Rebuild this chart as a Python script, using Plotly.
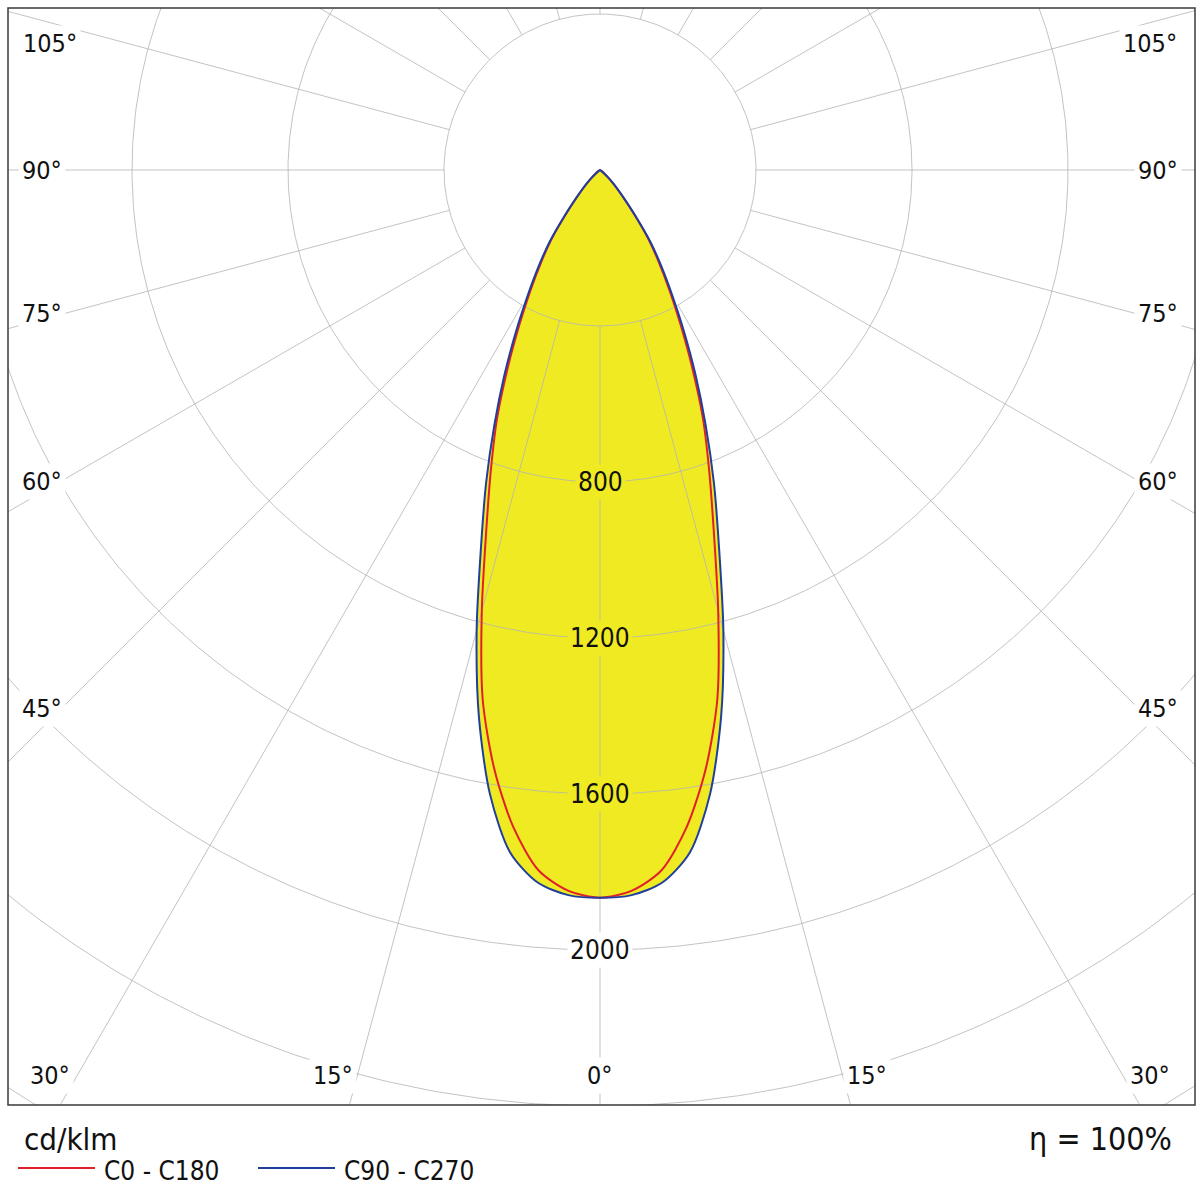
import numpy as np
import plotly.graph_objects as go

# luminous intensity distribution, cd/klm, symmetric planes
gamma = [0, 2.5, 5, 7.5, 10, 12.5, 15, 17.5, 20, 22.5, 25, 27.5, 30, 32.5,
         35, 37.5, 40, 42.5, 45, 47.5, 50, 55, 60, 70, 80, 90]
c0_c180 = [1866, 1850, 1803, 1700, 1560, 1390, 1171, 970, 818, 690, 560, 448,
           357, 282, 217, 148, 98, 66, 43, 27, 14, 5, 0, 0, 0, 0]
c90_c270 = [1866, 1861, 1834, 1765, 1625, 1435, 1222, 1015, 854, 708, 580, 466,
            370, 293, 226, 152, 100, 68, 45, 28, 15, 5, 0, 0, 0, 0]

grid_radii = [400, 800, 1200, 1600, 2000, 2400, 2800]
radial_labels = [800, 1200, 1600, 2000]
spoke_angles = list(range(0, 360, 15))
angle_labels = [0, 15, 30, 45, 60, 75, 90, 105]

FONT = "DejaVu Sans Condensed, DejaVu Sans, sans-serif"
YELLOW = "#F0EA23"
RED = "#E0202A"
BLUE = "#1F3F9C"
GRID = "rgba(180,180,180,0.8)"

W, H = 1200, 1189
# plot frame in pixels
FL, FR, FT, FB = 8, 1195, 8, 1105
CX, CY = 600, 170      # pole in pixels
PX = 0.39              # pixels per cd/klm


def px_to_data(px, py):
    return (px - CX) / PX, (CY - py) / PX


def px_to_paper(px, py):
    return (px - FL) / (FR - FL), (FB - py) / (FB - FT)


def polar_xy(angles_deg, r):
    a = np.radians(angles_deg)
    r = np.asarray(r, dtype=float)
    return r * np.sin(a), -r * np.cos(a)


def full_curve(values):
    g = np.array(gamma, dtype=float)
    v = np.array(values, dtype=float)
    ang = np.concatenate([-g[::-1], g[1:]])
    val = np.concatenate([v[::-1], v[1:]])
    return polar_xy(ang, val)


fig = go.Figure()

# yellow area under the outer curve
fx, fy = full_curve(np.maximum(c0_c180, c90_c270))
fig.add_trace(go.Scatter(x=fx, y=fy, fill="toself", fillcolor=YELLOW,
                         mode="lines", line=dict(width=0, shape="spline", smoothing=0.8),
                         hoverinfo="skip"))

# grid circles
t = np.linspace(0, 360, 721)
gx, gy = [], []
for rad in grid_radii:
    x, y = polar_xy(t, np.full_like(t, rad))
    gx += list(x) + [None]
    gy += list(y) + [None]
fig.add_trace(go.Scatter(x=gx, y=gy, mode="lines",
                         line=dict(color=GRID, width=1), hoverinfo="skip"))

# spokes starting at the first circle
sx, sy = [], []
for ang in spoke_angles:
    x, y = polar_xy([ang, ang], [grid_radii[0], 3400])
    sx += list(x) + [None]
    sy += list(y) + [None]
fig.add_trace(go.Scatter(x=sx, y=sy, mode="lines",
                         line=dict(color=GRID, width=1), hoverinfo="skip"))

# curves
rx, ry = full_curve(c0_c180)
fig.add_trace(go.Scatter(x=rx, y=ry, mode="lines", name="C0 - C180",
                         line=dict(color=RED, width=2, shape="spline", smoothing=0.8)))
bx, by = full_curve(c90_c270)
fig.add_trace(go.Scatter(x=bx, y=by, mode="lines", name="C90 - C270",
                         line=dict(color=BLUE, width=2, shape="spline", smoothing=0.8)))

annotations = []

# angle labels (pixel positions on the left half, mirrored on the right)
label_pos = {0: (600, 1075), 15: (333, 1075), 30: (50, 1075), 45: (42, 708),
             60: (42, 481), 75: (42, 313), 90: (42, 170), 105: (50, 43)}
for ang in angle_labels:
    px, py = label_pos[ang]
    sides = [px] if ang == 0 else [px, 1200 - px]
    for sxp in sides:
        ax, ay = px_to_data(sxp, py)
        annotations.append(dict(x=ax, y=ay, xref="x", yref="y", text=f"{ang}°",
                                showarrow=False, bgcolor="white", borderpad=3,
                                font=dict(family=FONT, size=25, color="#111")))

# radial labels along the 0° spoke
for rad in radial_labels:
    bg = YELLOW if rad < max(c90_c270) else "white"
    annotations.append(dict(x=0, y=-rad, xref="x", yref="y", text=str(rad),
                            showarrow=False, bgcolor=bg, borderpad=2,
                            font=dict(family=FONT, size=26, color="#111")))

# legend block below the frame
ux, uy = px_to_paper(22, 1139)
annotations.append(dict(x=ux, y=uy, xref="paper", yref="paper", text="cd/klm",
                        showarrow=False, xanchor="left", yanchor="middle",
                        font=dict(family=FONT, size=31, color="#111")))
ex, ey = px_to_paper(1174, 1139)
annotations.append(dict(x=ex, y=ey, xref="paper", yref="paper", text="η = 100%",
                        showarrow=False, xanchor="right", yanchor="middle",
                        font=dict(family=FONT, size=32, color="#111")))

shapes = [dict(type="rect", xref="paper", yref="paper", x0=0, y0=0, x1=1, y1=1,
               line=dict(color="#3a3a3a", width=1.5), layer="above")]

legend_items = [("C0 - C180", RED, 18), ("C90 - C270", BLUE, 258)]
for name, col, x0 in legend_items:
    p0 = px_to_paper(x0, 1168)
    p1 = px_to_paper(x0 + 77, 1168)
    shapes.append(dict(type="line", xref="paper", yref="paper",
                       x0=p0[0], y0=p0[1], x1=p1[0], y1=p1[1],
                       line=dict(color=col, width=2)))
    tx, ty = px_to_paper(x0 + 84, 1171)
    annotations.append(dict(x=tx, y=ty, xref="paper", yref="paper", text=name,
                            showarrow=False, xanchor="left", yanchor="middle",
                            font=dict(family=FONT, size=26, color="#111")))

fig.update_layout(
    width=W, height=H,
    margin=dict(l=FL, r=W - FR, t=FT, b=H - FB),
    paper_bgcolor="white", plot_bgcolor="white",
    showlegend=False,
    xaxis=dict(visible=False, range=[(FL - CX) / PX, (FR - CX) / PX],
               fixedrange=True),
    yaxis=dict(visible=False, range=[(CY - FB) / PX, (CY - FT) / PX],
               fixedrange=True),
    annotations=annotations,
    shapes=shapes,
)

# drop the default body margin so the figure fills the window exactly
fig.write_html("out.html", config={"displayModeBar": False},
               post_script="document.body.style.margin = '0px';")
